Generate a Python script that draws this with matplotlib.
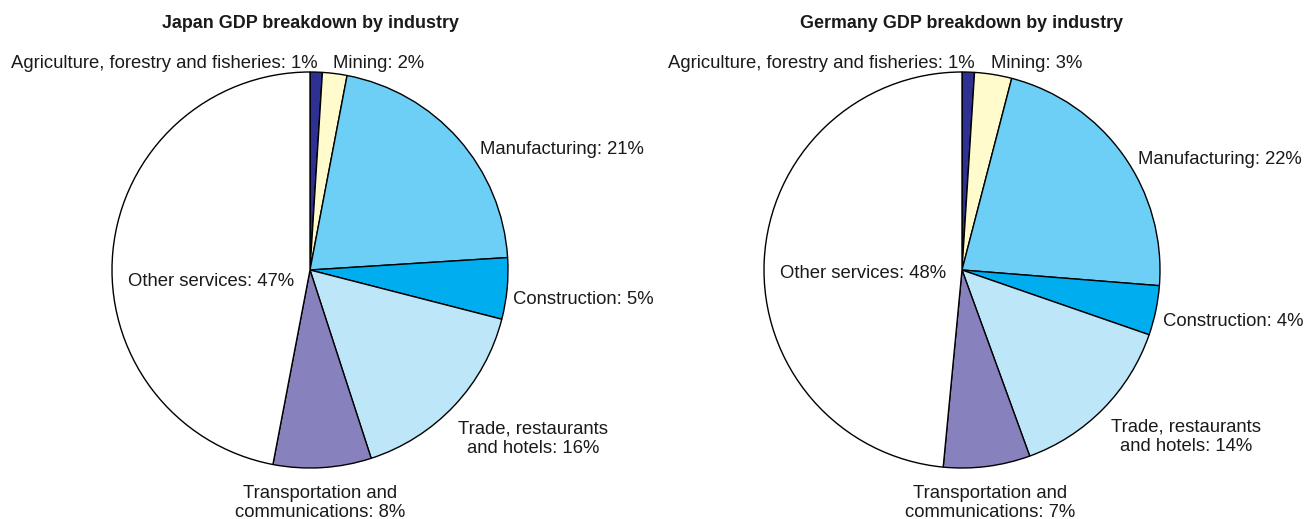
import matplotlib.pyplot as plt

plt.rcParams['font.family'] = ['Liberation Sans', 'DejaVu Sans']

industries = ["Agriculture, forestry and fisheries", "Mining", "Manufacturing",
              "Construction", "Trade, restaurants\nand hotels",
              "Transportation and\ncommunications", "Other services"]
japan_share = [1, 2, 21, 5, 16, 8, 47]
germany_share = [1, 3, 22, 4, 14, 7, 48]

colors = ["#2e3192", "#fffbcc", "#6dcff6", "#00aeef", "#bde7f9", "#8781bd", "#ffffff"]

# label anchors in units of the pie radius: (x, y, ha)
japan_label_pos = [(0.04, 1.03, "right"), (0.115, 1.03, "left"), (0.85, 0.605, "left"),
                   (1.015, -0.145, "left"), (1.115, -0.845, "center"),
                   (0.05, -1.165, "center"), (-0.495, -0.06, "center")]
germany_label_pos = [(0.065, 1.03, "right"), (0.145, 1.03, "left"), (0.88, 0.555, "left"),
                     (1.005, -0.255, "left"), (1.12, -0.835, "center"),
                     (0.14, -1.165, "center"), (-0.495, -0.02, "center")]


def draw_pie(ax, values, label_pos, title, radius):
    ax.pie(values, colors=colors, startangle=90, counterclock=False, radius=radius,
           wedgeprops=dict(edgecolor="black", linewidth=1.0))
    for name, val, (x, y, ha) in zip(industries, values, label_pos):
        ax.text(x, y, f"{name}: {val}%", ha=ha, va="center", fontsize=13.3,
                multialignment="center", color="#1a1a1a")
    ax.text(0, 1.23, title, ha="center", va="center", fontsize=12.9,
            fontweight="bold", color="#1a1a1a")


fig = plt.figure(figsize=(13.06, 5.19), dpi=100)
ax1 = fig.add_axes([0, 0, 0.5, 1])
ax2 = fig.add_axes([0.5, 0, 0.5, 1])

draw_pie(ax1, japan_share, japan_label_pos, "Japan GDP breakdown by industry", 0.99)
draw_pie(ax2, germany_share, germany_label_pos, "Germany GDP breakdown by industry", 0.99)

ax1.set_xlim(-1.55, 1.715)
ax1.set_ylim(-1.245, 1.35)
ax2.set_xlim(-1.545, 1.72)
ax2.set_ylim(-1.245, 1.35)

fig.savefig("out.png", dpi=100)
